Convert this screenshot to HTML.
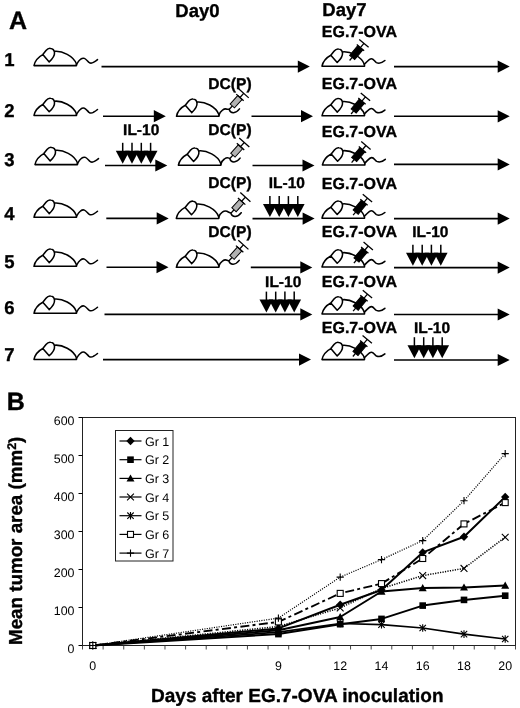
<!DOCTYPE html>
<html lang="en"><head><meta charset="utf-8"><title>Figure</title>
<style>
html,body{margin:0;padding:0;background:#fff;}
body{width:520px;height:708px;overflow:hidden;}
svg{display:block;}
text{font-family:"Liberation Sans", Arial, Helvetica, sans-serif;fill:#000;text-rendering:geometricPrecision;}
.m path{fill:none;stroke:#000;stroke-width:1.55;stroke-linecap:round;stroke-linejoin:round;}
.s path{fill:none;stroke:#000;stroke-width:1.3;stroke-linecap:butt;}
.s rect{stroke:#000;stroke-width:1;}
.l{fill:none;stroke:#000;stroke-width:1.6;}
.l2{fill:none;stroke:#000;stroke-width:1.5;}
.f{fill:#000;stroke:none;}
.pl,.rn,.b18,.b15,.xt,.yt{stroke:#000;stroke-width:0.35px;stroke-linejoin:round;}
.pl{font-size:25px;font-weight:bold;}
.rn{font-size:18.5px;font-weight:bold;}
.b18{font-size:18.5px;font-weight:bold;}
.b15{font-size:16px;font-weight:bold;}
.ax{font-size:12.4px;}
.lg{font-size:12.5px;}
.xt{font-size:19px;font-weight:bold;}
.yt{font-size:18.8px;font-weight:bold;}
</style></head><body>
<svg width="520" height="708" viewBox="0 0 520 708">
<rect x="0" y="0" width="520" height="708" fill="#fff"/>
<text x="9" y="28.6" class="pl">A</text>
<text x="6.8" y="410" class="pl">B</text>
<text x="175.3" y="17" class="b18">Day0</text>
<text x="322.3" y="16.4" class="b18">Day7</text>
<text x="4.2" y="66.0" class="rn">1</text>
<text x="4.2" y="116.5" class="rn">2</text>
<text x="4.2" y="166.1" class="rn">3</text>
<text x="4.2" y="220.0" class="rn">4</text>
<text x="4.2" y="267.5" class="rn">5</text>
<text x="4.2" y="314.0" class="rn">6</text>
<text x="4.2" y="361.4" class="rn">7</text>
<g transform="translate(34,65.6)" class="m"><path d="M0,0 H42.5 M0,0 C0.8,-4 4,-8.4 8.8,-11 L12,-15 C13.6,-17 15.4,-17.4 16.6,-17.2 C18.6,-17 20.2,-15.4 20.5,-13.2 C20.8,-10.4 19.4,-7.6 15.2,-3.7 L8.8,-11 M20.5,-14.3 C28,-15 39.6,-9.8 42.5,-1.5 V0"/><path d="M42.4,-1 C43.5,-3 45,-5.4 46.4,-6.2 C48,-7.4 49.4,-7.6 50.4,-7.2 C52,-6.6 53.6,-4.4 55,-3.2 C56.4,-2.2 58,-2.4 59.4,-3.2 C61,-4 62.4,-5 63.5,-6"/></g>
<g transform="translate(34,115.5)" class="m"><path d="M0,0 H42.5 M0,0 C0.8,-4 4,-8.4 8.8,-11 L12,-15 C13.6,-17 15.4,-17.4 16.6,-17.2 C18.6,-17 20.2,-15.4 20.5,-13.2 C20.8,-10.4 19.4,-7.6 15.2,-3.7 L8.8,-11 M20.5,-14.3 C28,-15 39.6,-9.8 42.5,-1.5 V0"/><path d="M42.4,-1 C43.5,-3 45,-5.4 46.4,-6.2 C48,-7.4 49.4,-7.6 50.4,-7.2 C52,-6.6 53.6,-4.4 55,-3.2 C56.4,-2.2 58,-2.4 59.4,-3.2 C61,-4 62.4,-5 63.5,-6"/></g>
<g transform="translate(35,164.60000000000002)" class="m"><path d="M0,0 H42.5 M0,0 C0.8,-4 4,-8.4 8.8,-11 L12,-15 C13.6,-17 15.4,-17.4 16.6,-17.2 C18.6,-17 20.2,-15.4 20.5,-13.2 C20.8,-10.4 19.4,-7.6 15.2,-3.7 L8.8,-11 M20.5,-14.3 C28,-15 39.6,-9.8 42.5,-1.5 V0"/><path d="M42.4,-1 C43.5,-3 45,-5.4 46.4,-6.2 C48,-7.4 49.4,-7.6 50.4,-7.2 C52,-6.6 53.6,-4.4 55,-3.2 C56.4,-2.2 58,-2.4 59.4,-3.2 C61,-4 62.4,-5 63.5,-6"/></g>
<g transform="translate(34,217.3)" class="m"><path d="M0,0 H42.5 M0,0 C0.8,-4 4,-8.4 8.8,-11 L12,-15 C13.6,-17 15.4,-17.4 16.6,-17.2 C18.6,-17 20.2,-15.4 20.5,-13.2 C20.8,-10.4 19.4,-7.6 15.2,-3.7 L8.8,-11 M20.5,-14.3 C28,-15 39.6,-9.8 42.5,-1.5 V0"/><path d="M42.4,-1 C43.5,-3 45,-5.4 46.4,-6.2 C48,-7.4 49.4,-7.6 50.4,-7.2 C52,-6.6 53.6,-4.4 55,-3.2 C56.4,-2.2 58,-2.4 59.4,-3.2 C61,-4 62.4,-5 63.5,-6"/></g>
<g transform="translate(34,266.3)" class="m"><path d="M0,0 H42.5 M0,0 C0.8,-4 4,-8.4 8.8,-11 L12,-15 C13.6,-17 15.4,-17.4 16.6,-17.2 C18.6,-17 20.2,-15.4 20.5,-13.2 C20.8,-10.4 19.4,-7.6 15.2,-3.7 L8.8,-11 M20.5,-14.3 C28,-15 39.6,-9.8 42.5,-1.5 V0"/><path d="M42.4,-1 C43.5,-3 45,-5.4 46.4,-6.2 C48,-7.4 49.4,-7.6 50.4,-7.2 C52,-6.6 53.6,-4.4 55,-3.2 C56.4,-2.2 58,-2.4 59.4,-3.2 C61,-4 62.4,-5 63.5,-6"/></g>
<g transform="translate(34,313.3)" class="m"><path d="M0,0 H42.5 M0,0 C0.8,-4 4,-8.4 8.8,-11 L12,-15 C13.6,-17 15.4,-17.4 16.6,-17.2 C18.6,-17 20.2,-15.4 20.5,-13.2 C20.8,-10.4 19.4,-7.6 15.2,-3.7 L8.8,-11 M20.5,-14.3 C28,-15 39.6,-9.8 42.5,-1.5 V0"/><path d="M42.4,-1 C43.5,-3 45,-5.4 46.4,-6.2 C48,-7.4 49.4,-7.6 50.4,-7.2 C52,-6.6 53.6,-4.4 55,-3.2 C56.4,-2.2 58,-2.4 59.4,-3.2 C61,-4 62.4,-5 63.5,-6"/></g>
<g transform="translate(34,359.5)" class="m"><path d="M0,0 H42.5 M0,0 C0.8,-4 4,-8.4 8.8,-11 L12,-15 C13.6,-17 15.4,-17.4 16.6,-17.2 C18.6,-17 20.2,-15.4 20.5,-13.2 C20.8,-10.4 19.4,-7.6 15.2,-3.7 L8.8,-11 M20.5,-14.3 C28,-15 39.6,-9.8 42.5,-1.5 V0"/><path d="M42.4,-1 C43.5,-3 45,-5.4 46.4,-6.2 C48,-7.4 49.4,-7.6 50.4,-7.2 C52,-6.6 53.6,-4.4 55,-3.2 C56.4,-2.2 58,-2.4 59.4,-3.2 C61,-4 62.4,-5 63.5,-6"/></g>
<g transform="translate(322,66.2)" class="m"><path d="M0,0 H42.5 M0,0 C0.8,-4 4,-8.4 8.8,-11 L12,-15 C13.6,-17 15.4,-17.4 16.6,-17.2 C18.6,-17 20.2,-15.4 20.5,-13.2 C20.8,-10.4 19.4,-7.6 15.2,-3.7 L8.8,-11 M20.5,-14.3 C28,-15 39.6,-9.8 42.5,-1.5 V0"/><path d="M42.3,-2 C44.5,-3.6 47,-7.4 49.4,-7.4 C51.6,-7.4 52.6,-4.6 54.4,-3.6 C56.6,-2.6 60,-3.2 62.9,-5.7"/></g>
<g transform="translate(349.6,60.5) rotate(-50)" class="s"><path d="M0,0 H4"/><rect x="4" y="-3.3" width="12.5" height="6.6" fill="#000"/><path d="M16.9,-4.8 V4.8 M16.5,0 H22.3 M22.3,-6.1 V6.1"/></g>
<text x="321.8" y="37.2" class="b15">EG.7-OVA</text>
<path d="M394,66.6 H498.7" class="l"/>
<path d="M509.7,66.6 L497.7,60.49999999999999 V72.69999999999999 Z" class="f"/>
<g transform="translate(322,115.8)" class="m"><path d="M0,0 H42.5 M0,0 C0.8,-4 4,-8.4 8.8,-11 L12,-15 C13.6,-17 15.4,-17.4 16.6,-17.2 C18.6,-17 20.2,-15.4 20.5,-13.2 C20.8,-10.4 19.4,-7.6 15.2,-3.7 L8.8,-11 M20.5,-14.3 C28,-15 39.6,-9.8 42.5,-1.5 V0"/><path d="M42.3,-2 C44.5,-3.6 47,-7.4 49.4,-7.4 C51.6,-7.4 52.6,-4.6 54.4,-3.6 C56.6,-2.6 60,-3.2 62.9,-5.7"/></g>
<g transform="translate(351.1,114.0) rotate(-50)" class="s"><path d="M0,0 H4"/><rect x="4" y="-3.3" width="12.5" height="6.6" fill="#000"/><path d="M16.9,-4.8 V4.8 M16.5,0 H22.3 M22.3,-6.1 V6.1"/></g>
<text x="321.8" y="88.7" class="b15">EG.7-OVA</text>
<path d="M394,116.3 H498.7" class="l"/>
<path d="M509.7,116.3 L497.7,110.2 V122.39999999999999 Z" class="f"/>
<g transform="translate(322.4,165.0)" class="m"><path d="M0,0 H42.5 M0,0 C0.8,-4 4,-8.4 8.8,-11 L12,-15 C13.6,-17 15.4,-17.4 16.6,-17.2 C18.6,-17 20.2,-15.4 20.5,-13.2 C20.8,-10.4 19.4,-7.6 15.2,-3.7 L8.8,-11 M20.5,-14.3 C28,-15 39.6,-9.8 42.5,-1.5 V0"/><path d="M42.3,-2 C44.5,-3.6 47,-7.4 49.4,-7.4 C51.6,-7.4 52.6,-4.6 54.4,-3.6 C56.6,-2.6 60,-3.2 62.9,-5.7"/></g>
<g transform="translate(351.6,162.6) rotate(-50)" class="s"><path d="M0,0 H4"/><rect x="4" y="-3.3" width="12.5" height="6.6" fill="#000"/><path d="M16.9,-4.8 V4.8 M16.5,0 H22.3 M22.3,-6.1 V6.1"/></g>
<text x="321.8" y="137.0" class="b15">EG.7-OVA</text>
<path d="M394,164.4 H498.7" class="l"/>
<path d="M509.7,164.4 L497.7,158.3 V170.5 Z" class="f"/>
<g transform="translate(322,218.2)" class="m"><path d="M0,0 H42.5 M0,0 C0.8,-4 4,-8.4 8.8,-11 L12,-15 C13.6,-17 15.4,-17.4 16.6,-17.2 C18.6,-17 20.2,-15.4 20.5,-13.2 C20.8,-10.4 19.4,-7.6 15.2,-3.7 L8.8,-11 M20.5,-14.3 C28,-15 39.6,-9.8 42.5,-1.5 V0"/><path d="M42.3,-2 C44.5,-3.6 47,-7.4 49.4,-7.4 C51.6,-7.4 52.6,-4.6 54.4,-3.6 C56.6,-2.6 60,-3.2 62.9,-5.7"/></g>
<g transform="translate(353.1,215.2) rotate(-50)" class="s"><path d="M0,0 H4"/><rect x="4" y="-3.3" width="12.5" height="6.6" fill="#000"/><path d="M16.9,-4.8 V4.8 M16.5,0 H22.3 M22.3,-6.1 V6.1"/></g>
<text x="321.8" y="189.1" class="b15">EG.7-OVA</text>
<path d="M394,218.6 H498.7" class="l"/>
<path d="M509.7,218.6 L497.7,212.5 V224.7 Z" class="f"/>
<g transform="translate(322,267.0)" class="m"><path d="M0,0 H42.5 M0,0 C0.8,-4 4,-8.4 8.8,-11 L12,-15 C13.6,-17 15.4,-17.4 16.6,-17.2 C18.6,-17 20.2,-15.4 20.5,-13.2 C20.8,-10.4 19.4,-7.6 15.2,-3.7 L8.8,-11 M20.5,-14.3 C28,-15 39.6,-9.8 42.5,-1.5 V0"/><path d="M42.3,-2 C44.5,-3.6 47,-7.4 49.4,-7.4 C51.6,-7.4 52.6,-4.6 54.4,-3.6 C56.6,-2.6 60,-3.2 62.9,-5.7"/></g>
<g transform="translate(353.9,263.1) rotate(-50)" class="s"><path d="M0,0 H4"/><rect x="4" y="-3.3" width="12.5" height="6.6" fill="#000"/><path d="M16.9,-4.8 V4.8 M16.5,0 H22.3 M22.3,-6.1 V6.1"/></g>
<text x="321.8" y="237.0" class="b15">EG.7-OVA</text>
<path d="M394,267.6 H498.7" class="l"/>
<path d="M509.7,267.6 L497.7,261.5 V273.70000000000005 Z" class="f"/>
<g transform="translate(322,314.0)" class="m"><path d="M0,0 H42.5 M0,0 C0.8,-4 4,-8.4 8.8,-11 L12,-15 C13.6,-17 15.4,-17.4 16.6,-17.2 C18.6,-17 20.2,-15.4 20.5,-13.2 C20.8,-10.4 19.4,-7.6 15.2,-3.7 L8.8,-11 M20.5,-14.3 C28,-15 39.6,-9.8 42.5,-1.5 V0"/><path d="M42.3,-2 C44.5,-3.6 47,-7.4 49.4,-7.4 C51.6,-7.4 52.6,-4.6 54.4,-3.6 C56.6,-2.6 60,-3.2 62.9,-5.7"/></g>
<g transform="translate(353.1,311.2) rotate(-50)" class="s"><path d="M0,0 H4"/><rect x="4" y="-3.3" width="12.5" height="6.6" fill="#000"/><path d="M16.9,-4.8 V4.8 M16.5,0 H22.3 M22.3,-6.1 V6.1"/></g>
<text x="321.8" y="286.8" class="b15">EG.7-OVA</text>
<path d="M394,314.5 H498.7" class="l"/>
<path d="M509.7,314.5 L497.7,308.4 V320.6 Z" class="f"/>
<g transform="translate(322,359.6)" class="m"><path d="M0,0 H42.5 M0,0 C0.8,-4 4,-8.4 8.8,-11 L12,-15 C13.6,-17 15.4,-17.4 16.6,-17.2 C18.6,-17 20.2,-15.4 20.5,-13.2 C20.8,-10.4 19.4,-7.6 15.2,-3.7 L8.8,-11 M20.5,-14.3 C28,-15 39.6,-9.8 42.5,-1.5 V0"/><path d="M42.3,-2 C44.5,-3.6 47,-7.4 49.4,-7.4 C51.6,-7.4 52.6,-4.6 54.4,-3.6 C56.6,-2.6 60,-3.2 62.9,-5.7"/></g>
<g transform="translate(352.9,356.5) rotate(-50)" class="s"><path d="M0,0 H4"/><rect x="4" y="-3.3" width="12.5" height="6.6" fill="#000"/><path d="M16.9,-4.8 V4.8 M16.5,0 H22.3 M22.3,-6.1 V6.1"/></g>
<text x="321.8" y="333.3" class="b15">EG.7-OVA</text>
<path d="M394,360.0 H498.7" class="l"/>
<path d="M509.7,360.0 L497.7,353.9 V366.1 Z" class="f"/>
<path d="M101.5,66.6 H298.8" class="l"/>
<path d="M309.8,66.6 L297.8,60.49999999999999 V72.69999999999999 Z" class="f"/>
<path d="M103,116.2 H154.8" class="l"/>
<path d="M165.8,116.2 L153.8,110.10000000000001 V122.3 Z" class="f"/>
<g transform="translate(176.5,116.3)" class="m"><path d="M0,0 H42.5 M0,0 C0.8,-4 4,-8.4 8.8,-11 L12,-15 C13.6,-17 15.4,-17.4 16.6,-17.2 C18.6,-17 20.2,-15.4 20.5,-13.2 C20.8,-10.4 19.4,-7.6 15.2,-3.7 L8.8,-11 M20.5,-14.3 C28,-15 39.6,-9.8 42.5,-1.5 V0"/><path d="M42.4,-1 C43,-3 44.5,-5.2 46,-6.2 C47.6,-7.4 49.4,-7.6 50.6,-7.1 C51.6,-6.7 51.6,-7.3 52.8,-7.0 M52.9,-6.3 C53.3,-4.9 54.7,-3.7 56.7,-3.6 C59.1,-3.5 61.3,-5.1 63.0,-7.4"/></g>
<g transform="translate(229.3,109.3) rotate(-48)" class="s"><path d="M0,0 H4.5"/><rect x="4.5" y="-2.9" width="11.4" height="5.8" fill="#b2b2b2"/><path d="M15.9,-5 V5 M15.9,0 H21.5 M21.5,-6.8 V6.8"/></g>
<path d="M251.5,116.2 H302" class="l"/>
<path d="M313,116.2 L301,110.10000000000001 V122.3 Z" class="f"/>
<text x="208.3" y="88.6" class="b15" style="font-size:15.6px">DC(P)</text>
<path d="M105,165.5 H156.3" class="l"/>
<path d="M167.3,165.5 L155.3,159.4 V171.6 Z" class="f"/>
<g transform="translate(178.4,165.20000000000002)" class="m"><path d="M0,0 H42.5 M0,0 C0.8,-4 4,-8.4 8.8,-11 L12,-15 C13.6,-17 15.4,-17.4 16.6,-17.2 C18.6,-17 20.2,-15.4 20.5,-13.2 C20.8,-10.4 19.4,-7.6 15.2,-3.7 L8.8,-11 M20.5,-14.3 C28,-15 39.6,-9.8 42.5,-1.5 V0"/><path d="M42.4,-1 C43,-3 44.5,-5.2 46,-6.2 C47.6,-7.4 49.4,-7.6 50.6,-7.1 C51.6,-6.7 50.3,-7.0 51.5,-6.7 M51.6,-6.0 C52.0,-4.6 53.4,-3.4 55.4,-3.3 C57.8,-3.2 60.0,-4.8 61.7,-7.1"/></g>
<g transform="translate(229.9,158.5) rotate(-48)" class="s"><path d="M0,0 H4.5"/><rect x="4.5" y="-2.9" width="11.4" height="5.8" fill="#b2b2b2"/><path d="M15.9,-5 V5 M15.9,0 H21.5 M21.5,-6.8 V6.8"/></g>
<path d="M252.5,165.5 H303.5" class="l"/>
<path d="M314.5,165.5 L302.5,159.4 V171.6 Z" class="f"/>
<text x="208.3" y="135.3" class="b15" style="font-size:15.6px">DC(P)</text>
<path d="M122.7,142.8 V152.8" class="l2"/>
<path d="M122.7,163.8 L115.8,150.8 H129.6 Z" class="f"/>
<path d="M132.0,142.8 V152.8" class="l2"/>
<path d="M132.0,163.8 L125.1,150.8 H138.9 Z" class="f"/>
<path d="M141.3,142.8 V152.8" class="l2"/>
<path d="M141.3,163.8 L134.4,150.8 H148.2 Z" class="f"/>
<path d="M150.6,142.8 V152.8" class="l2"/>
<path d="M150.6,163.8 L143.7,150.8 H157.5 Z" class="f"/>
<text x="141.2" y="135.3" class="b15" style="font-size:15.5px" text-anchor="middle">IL-10</text>
<path d="M106.3,218.4 H157.7" class="l"/>
<path d="M168.7,218.4 L156.7,212.3 V224.5 Z" class="f"/>
<g transform="translate(176.3,218.4)" class="m"><path d="M0,0 H42.5 M0,0 C0.8,-4 4,-8.4 8.8,-11 L12,-15 C13.6,-17 15.4,-17.4 16.6,-17.2 C18.6,-17 20.2,-15.4 20.5,-13.2 C20.8,-10.4 19.4,-7.6 15.2,-3.7 L8.8,-11 M20.5,-14.3 C28,-15 39.6,-9.8 42.5,-1.5 V0"/><path d="M42.4,-1 C43,-3 44.5,-5.2 46,-6.2 C47.6,-7.4 49.4,-7.6 50.6,-7.1 C51.6,-6.7 53.5,-5.6 54.7,-5.3 M54.8,-4.6 C55.2,-3.2 56.6,-2.0 58.6,-1.9 C61.0,-1.8 63.2,-3.4 64.9,-5.7"/></g>
<g transform="translate(231.0,213.1) rotate(-48)" class="s"><path d="M0,0 H4.5"/><rect x="4.5" y="-2.9" width="11.4" height="5.8" fill="#b2b2b2"/><path d="M15.9,-5 V5 M15.9,0 H21.5 M21.5,-6.8 V6.8"/></g>
<path d="M252.5,218.6 H303.6" class="l"/>
<path d="M314.6,218.6 L302.6,212.5 V224.7 Z" class="f"/>
<text x="208.3" y="188.1" class="b15" style="font-size:15.6px">DC(P)</text>
<path d="M269.9,196.1 V206.1" class="l2"/>
<path d="M269.9,217.1 L263.0,204.1 H276.8 Z" class="f"/>
<path d="M279.2,196.1 V206.1" class="l2"/>
<path d="M279.2,217.1 L272.3,204.1 H286.1 Z" class="f"/>
<path d="M288.4,196.1 V206.1" class="l2"/>
<path d="M288.4,217.1 L281.6,204.1 H295.3 Z" class="f"/>
<path d="M297.8,196.1 V206.1" class="l2"/>
<path d="M297.8,217.1 L290.9,204.1 H304.6 Z" class="f"/>
<text x="286.8" y="188.3" class="b15" style="font-size:15.5px" text-anchor="middle">IL-10</text>
<path d="M106.5,267.2 H157.5" class="l"/>
<path d="M168.5,267.2 L156.5,261.09999999999997 V273.3 Z" class="f"/>
<g transform="translate(176.4,267.3)" class="m"><path d="M0,0 H42.5 M0,0 C0.8,-4 4,-8.4 8.8,-11 L12,-15 C13.6,-17 15.4,-17.4 16.6,-17.2 C18.6,-17 20.2,-15.4 20.5,-13.2 C20.8,-10.4 19.4,-7.6 15.2,-3.7 L8.8,-11 M20.5,-14.3 C28,-15 39.6,-9.8 42.5,-1.5 V0"/><path d="M42.4,-1 C43,-3 44.5,-5.2 46,-6.2 C47.6,-7.4 49.4,-7.6 50.6,-7.1 C51.6,-6.7 51.4,-6.8 52.6,-6.5 M52.7,-5.8 C53.1,-4.4 54.5,-3.2 56.5,-3.1 C58.9,-3.0 61.1,-4.6 62.8,-6.9"/></g>
<g transform="translate(229.0,260.8) rotate(-48)" class="s"><path d="M0,0 H4.5"/><rect x="4.5" y="-2.9" width="11.4" height="5.8" fill="#b2b2b2"/><path d="M15.9,-5 V5 M15.9,0 H21.5 M21.5,-6.8 V6.8"/></g>
<path d="M250.8,267.4 H301.3" class="l"/>
<path d="M312.3,267.4 L300.3,261.29999999999995 V273.5 Z" class="f"/>
<text x="208.3" y="236.9" class="b15" style="font-size:15.6px">DC(P)</text>
<path d="M412.9,244.7 V254.7" class="l2"/>
<path d="M412.9,265.7 L406.0,252.7 H419.8 Z" class="f"/>
<path d="M422.2,244.7 V254.7" class="l2"/>
<path d="M422.2,265.7 L415.3,252.7 H429.1 Z" class="f"/>
<path d="M431.4,244.7 V254.7" class="l2"/>
<path d="M431.4,265.7 L424.6,252.7 H438.3 Z" class="f"/>
<path d="M440.8,244.7 V254.7" class="l2"/>
<path d="M440.8,265.7 L433.9,252.7 H447.6 Z" class="f"/>
<text x="430.4" y="237.1" class="b15" style="font-size:15.5px" text-anchor="middle">IL-10</text>
<path d="M104.5,314.4 H301.3" class="l"/>
<path d="M312.3,314.4 L300.3,308.29999999999995 V320.5 Z" class="f"/>
<path d="M266.4,291.6 V301.6" class="l2"/>
<path d="M266.4,312.6 L259.5,299.6 H273.2 Z" class="f"/>
<path d="M275.7,291.6 V301.6" class="l2"/>
<path d="M275.7,312.6 L268.8,299.6 H282.6 Z" class="f"/>
<path d="M284.9,291.6 V301.6" class="l2"/>
<path d="M284.9,312.6 L278.1,299.6 H291.8 Z" class="f"/>
<path d="M294.2,291.6 V301.6" class="l2"/>
<path d="M294.2,312.6 L287.4,299.6 H301.1 Z" class="f"/>
<text x="283.2" y="286.6" class="b15" style="font-size:15.5px" text-anchor="middle">IL-10</text>
<path d="M103,359.59999999999997 H300" class="l"/>
<path d="M311,359.59999999999997 L299,353.49999999999994 V365.7 Z" class="f"/>
<path d="M414.4,337.2 V347.2" class="l2"/>
<path d="M414.4,358.2 L407.5,345.2 H421.2 Z" class="f"/>
<path d="M423.7,337.2 V347.2" class="l2"/>
<path d="M423.7,358.2 L416.8,345.2 H430.6 Z" class="f"/>
<path d="M432.9,337.2 V347.2" class="l2"/>
<path d="M432.9,358.2 L426.1,345.2 H439.8 Z" class="f"/>
<path d="M442.2,337.2 V347.2" class="l2"/>
<path d="M442.2,358.2 L435.4,345.2 H449.1 Z" class="f"/>
<text x="432.0" y="333.0" class="b15" style="font-size:15.5px" text-anchor="middle">IL-10</text>
<rect x="82.5" y="417.5" width="433.0" height="228.0" fill="none" stroke="#222" stroke-width="1"/>
<path d="M78.5,645.5 H82.5" stroke="#000" stroke-width="1" fill="none"/>
<text x="74.5" y="652.9" class="ax" text-anchor="end">0</text>
<path d="M78.5,607.5 H82.5" stroke="#000" stroke-width="1" fill="none"/>
<text x="74.5" y="614.9" class="ax" text-anchor="end">100</text>
<path d="M78.5,569.5 H82.5" stroke="#000" stroke-width="1" fill="none"/>
<text x="74.5" y="576.9" class="ax" text-anchor="end">200</text>
<path d="M78.5,531.5 H82.5" stroke="#000" stroke-width="1" fill="none"/>
<text x="74.5" y="538.9" class="ax" text-anchor="end">300</text>
<path d="M78.5,493.5 H82.5" stroke="#000" stroke-width="1" fill="none"/>
<text x="74.5" y="500.9" class="ax" text-anchor="end">400</text>
<path d="M78.5,455.5 H82.5" stroke="#000" stroke-width="1" fill="none"/>
<text x="74.5" y="462.9" class="ax" text-anchor="end">500</text>
<path d="M78.5,417.5 H82.5" stroke="#000" stroke-width="1" fill="none"/>
<text x="74.5" y="424.9" class="ax" text-anchor="end">600</text>
<path d="M82.50,645.5 V649.5" stroke="#333" stroke-width="0.9" fill="none"/>
<path d="M103.12,645.5 V649.5" stroke="#333" stroke-width="0.9" fill="none"/>
<path d="M123.74,645.5 V649.5" stroke="#333" stroke-width="0.9" fill="none"/>
<path d="M144.36,645.5 V649.5" stroke="#333" stroke-width="0.9" fill="none"/>
<path d="M164.98,645.5 V649.5" stroke="#333" stroke-width="0.9" fill="none"/>
<path d="M185.60,645.5 V649.5" stroke="#333" stroke-width="0.9" fill="none"/>
<path d="M206.21,645.5 V649.5" stroke="#333" stroke-width="0.9" fill="none"/>
<path d="M226.83,645.5 V649.5" stroke="#333" stroke-width="0.9" fill="none"/>
<path d="M247.45,645.5 V649.5" stroke="#333" stroke-width="0.9" fill="none"/>
<path d="M268.07,645.5 V649.5" stroke="#333" stroke-width="0.9" fill="none"/>
<path d="M288.69,645.5 V649.5" stroke="#333" stroke-width="0.9" fill="none"/>
<path d="M309.31,645.5 V649.5" stroke="#333" stroke-width="0.9" fill="none"/>
<path d="M329.93,645.5 V649.5" stroke="#333" stroke-width="0.9" fill="none"/>
<path d="M350.55,645.5 V649.5" stroke="#333" stroke-width="0.9" fill="none"/>
<path d="M371.17,645.5 V649.5" stroke="#333" stroke-width="0.9" fill="none"/>
<path d="M391.79,645.5 V649.5" stroke="#333" stroke-width="0.9" fill="none"/>
<path d="M412.40,645.5 V649.5" stroke="#333" stroke-width="0.9" fill="none"/>
<path d="M433.02,645.5 V649.5" stroke="#333" stroke-width="0.9" fill="none"/>
<path d="M453.64,645.5 V649.5" stroke="#333" stroke-width="0.9" fill="none"/>
<path d="M474.26,645.5 V649.5" stroke="#333" stroke-width="0.9" fill="none"/>
<path d="M494.88,645.5 V649.5" stroke="#333" stroke-width="0.9" fill="none"/>
<path d="M515.50,645.5 V649.5" stroke="#333" stroke-width="0.9" fill="none"/>
<text x="92.8" y="670" class="ax" text-anchor="middle">0</text>
<text x="278.4" y="670" class="ax" text-anchor="middle">9</text>
<text x="340.2" y="670" class="ax" text-anchor="middle">12</text>
<text x="381.5" y="670" class="ax" text-anchor="middle">14</text>
<text x="422.7" y="670" class="ax" text-anchor="middle">16</text>
<text x="464.0" y="670" class="ax" text-anchor="middle">18</text>
<text x="505.2" y="670" class="ax" text-anchor="middle">20</text>
<text x="297.3" y="702.3" class="xt" text-anchor="middle">Days after EG.7-OVA inoculation</text>
<text transform="translate(22.3,645) rotate(-90)" class="yt">Mean tumor area (mm<tspan dy="-6" font-size="12.5">2</tspan><tspan dy="6">)</tspan></text>
<polyline points="92.8,645.5 278.4,628.4 340.2,604.8 381.5,590.0 422.7,552.4 464.0,536.8 505.2,496.9" fill="none" stroke="#000" stroke-linejoin="round" stroke-width="2"/>
<path d="M92.8,641.3 L97.0,645.5 L92.8,649.7 L88.6,645.5 Z" fill="#000"/>
<path d="M278.4,624.1999999999999 L282.59999999999997,628.4 L278.4,632.6 L274.2,628.4 Z" fill="#000"/>
<path d="M340.2,600.5999999999999 L344.4,604.8 L340.2,609.0 L336.0,604.8 Z" fill="#000"/>
<path d="M381.5,585.8 L385.7,590.0 L381.5,594.2 L377.3,590.0 Z" fill="#000"/>
<path d="M422.7,548.1999999999999 L426.9,552.4 L422.7,556.6 L418.5,552.4 Z" fill="#000"/>
<path d="M464.0,532.5999999999999 L468.2,536.8 L464.0,541.0 L459.8,536.8 Z" fill="#000"/>
<path d="M505.2,492.7 L509.4,496.9 L505.2,501.09999999999997 L501.0,496.9 Z" fill="#000"/>
<polyline points="92.8,645.5 278.4,634.1 340.2,624.2 381.5,618.9 422.7,605.6 464.0,599.9 505.2,595.7" fill="none" stroke="#000" stroke-linejoin="round" stroke-width="2"/>
<rect x="89.5" y="642.2" width="6.6" height="6.6" fill="#000"/>
<rect x="275.09999999999997" y="630.8000000000001" width="6.6" height="6.6" fill="#000"/>
<rect x="336.9" y="620.9000000000001" width="6.6" height="6.6" fill="#000"/>
<rect x="378.2" y="615.6" width="6.6" height="6.6" fill="#000"/>
<rect x="419.4" y="602.3000000000001" width="6.6" height="6.6" fill="#000"/>
<rect x="460.7" y="596.6" width="6.6" height="6.6" fill="#000"/>
<rect x="501.9" y="592.4000000000001" width="6.6" height="6.6" fill="#000"/>
<polyline points="92.8,645.5 278.4,630.3 340.2,617.0 381.5,591.5 422.7,588.1 464.0,587.4 505.2,585.5" fill="none" stroke="#000" stroke-linejoin="round" stroke-width="2"/>
<path d="M92.8,641.5 L96.8,648.7 H88.8 Z" fill="#000"/>
<path d="M278.4,626.3 L282.4,633.5 H274.4 Z" fill="#000"/>
<path d="M340.2,613.0 L344.2,620.2 H336.2 Z" fill="#000"/>
<path d="M381.5,587.5 L385.5,594.7 H377.5 Z" fill="#000"/>
<path d="M422.7,584.1 L426.7,591.3000000000001 H418.7 Z" fill="#000"/>
<path d="M464.0,583.4 L468.0,590.6 H460.0 Z" fill="#000"/>
<path d="M505.2,581.5 L509.2,588.7 H501.2 Z" fill="#000"/>
<polyline points="92.8,645.5 278.4,626.5 340.2,607.9 381.5,588.5 422.7,575.6 464.0,568.4 505.2,537.2" fill="none" stroke="#000" stroke-linejoin="round" stroke-width="1.5" stroke-dasharray="1.2 1.3"/>
<path d="M89.39999999999999,642.1 L96.2,648.9 M89.39999999999999,648.9 L96.2,642.1" stroke="#000" stroke-width="1.1" fill="none"/>
<path d="M275.0,623.1 L281.79999999999995,629.9 M275.0,629.9 L281.79999999999995,623.1" stroke="#000" stroke-width="1.1" fill="none"/>
<path d="M336.8,604.5 L343.59999999999997,611.3 M336.8,611.3 L343.59999999999997,604.5" stroke="#000" stroke-width="1.1" fill="none"/>
<path d="M378.1,585.1 L384.9,591.9 M378.1,591.9 L384.9,585.1" stroke="#000" stroke-width="1.1" fill="none"/>
<path d="M419.3,572.2 L426.09999999999997,579.0 M419.3,579.0 L426.09999999999997,572.2" stroke="#000" stroke-width="1.1" fill="none"/>
<path d="M460.6,565.0 L467.4,571.8 M460.6,571.8 L467.4,565.0" stroke="#000" stroke-width="1.1" fill="none"/>
<path d="M501.8,533.8000000000001 L508.59999999999997,540.6 M501.8,540.6 L508.59999999999997,533.8000000000001" stroke="#000" stroke-width="1.1" fill="none"/>
<polyline points="92.8,645.5 278.4,632.2 340.2,623.5 381.5,624.6 422.7,628.0 464.0,634.1 505.2,639.0" fill="none" stroke="#000" stroke-linejoin="round" stroke-width="1.7"/>
<path d="M89.6,642.3 L96.0,648.7 M89.6,648.7 L96.0,642.3 M92.8,641.7 V649.3" stroke="#000" stroke-width="1.1" fill="none"/>
<path d="M275.2,629.0 L281.59999999999997,635.4000000000001 M275.2,635.4000000000001 L281.59999999999997,629.0 M278.4,628.4000000000001 V636.0" stroke="#000" stroke-width="1.1" fill="none"/>
<path d="M337.0,620.3 L343.4,626.7 M337.0,626.7 L343.4,620.3 M340.2,619.7 V627.3" stroke="#000" stroke-width="1.1" fill="none"/>
<path d="M378.3,621.4 L384.7,627.8000000000001 M378.3,627.8000000000001 L384.7,621.4 M381.5,620.8000000000001 V628.4" stroke="#000" stroke-width="1.1" fill="none"/>
<path d="M419.5,624.8 L425.9,631.2 M419.5,631.2 L425.9,624.8 M422.7,624.2 V631.8" stroke="#000" stroke-width="1.1" fill="none"/>
<path d="M460.8,630.9 L467.2,637.3000000000001 M460.8,637.3000000000001 L467.2,630.9 M464.0,630.3000000000001 V637.9" stroke="#000" stroke-width="1.1" fill="none"/>
<path d="M502.0,635.8 L508.4,642.2 M502.0,642.2 L508.4,635.8 M505.2,635.2 V642.8" stroke="#000" stroke-width="1.1" fill="none"/>
<polyline points="92.8,645.5 278.4,621.9 340.2,593.4 381.5,583.6 422.7,558.5 464.0,523.9 505.2,502.6" fill="none" stroke="#000" stroke-linejoin="round" stroke-width="1.9" stroke-dasharray="9 3.2 3 3.4"/>
<rect x="89.8" y="642.5" width="6" height="6" fill="#fff" stroke="#000" stroke-width="1.1"/>
<rect x="275.4" y="618.9" width="6" height="6" fill="#fff" stroke="#000" stroke-width="1.1"/>
<rect x="337.2" y="590.4" width="6" height="6" fill="#fff" stroke="#000" stroke-width="1.1"/>
<rect x="378.5" y="580.6" width="6" height="6" fill="#fff" stroke="#000" stroke-width="1.1"/>
<rect x="419.7" y="555.5" width="6" height="6" fill="#fff" stroke="#000" stroke-width="1.1"/>
<rect x="461.0" y="520.9" width="6" height="6" fill="#fff" stroke="#000" stroke-width="1.1"/>
<rect x="502.2" y="499.6" width="6" height="6" fill="#fff" stroke="#000" stroke-width="1.1"/>
<polyline points="92.8,645.5 278.4,618.1 340.2,577.1 381.5,559.6 422.7,540.6 464.0,500.7 505.2,453.6" fill="none" stroke="#000" stroke-linejoin="round" stroke-width="1.2" stroke-dasharray="1.1 1.3"/>
<path d="M89.2,645.5 H96.39999999999999 M92.8,641.9 V649.1" stroke="#000" stroke-width="1.1" fill="none"/>
<path d="M274.79999999999995,618.1 H282.0 M278.4,614.5 V621.7" stroke="#000" stroke-width="1.1" fill="none"/>
<path d="M336.59999999999997,577.1 H343.8 M340.2,573.5 V580.7" stroke="#000" stroke-width="1.1" fill="none"/>
<path d="M377.9,559.6 H385.1 M381.5,556.0 V563.2" stroke="#000" stroke-width="1.1" fill="none"/>
<path d="M419.09999999999997,540.6 H426.3 M422.7,537.0 V544.2" stroke="#000" stroke-width="1.1" fill="none"/>
<path d="M460.4,500.7 H467.6 M464.0,497.09999999999997 V504.3" stroke="#000" stroke-width="1.1" fill="none"/>
<path d="M501.59999999999997,453.6 H508.8 M505.2,450.0 V457.20000000000005" stroke="#000" stroke-width="1.1" fill="none"/>
<rect x="115.5" y="430.5" width="57.5" height="130.5" fill="#fff" stroke="#222" stroke-width="1"/>
<path d="M119.5,441.0 H141.5" stroke="#000" stroke-width="1.2" fill="none"/>
<path d="M130.5,436.8 L134.7,441.0 L130.5,445.2 L126.3,441.0 Z" fill="#000"/>
<text x="145" y="445.5" class="lg">Gr 1</text>
<path d="M119.5,459.7 H141.5" stroke="#000" stroke-width="1.2" fill="none"/>
<rect x="127.2" y="456.4" width="6.6" height="6.6" fill="#000"/>
<text x="145" y="464.2" class="lg">Gr 2</text>
<path d="M119.5,478.4 H141.5" stroke="#000" stroke-width="1.2" fill="none"/>
<path d="M130.5,474.4 L134.5,481.59999999999997 H126.5 Z" fill="#000"/>
<text x="145" y="482.9" class="lg">Gr 3</text>
<path d="M119.5,497.0 H141.5" stroke="#000" stroke-width="1.2" fill="none"/>
<path d="M127.1,493.6 L133.9,500.4 M127.1,500.4 L133.9,493.6" stroke="#000" stroke-width="1.1" fill="none"/>
<text x="145" y="501.5" class="lg">Gr 4</text>
<path d="M119.5,515.7 H141.5" stroke="#000" stroke-width="1.2" fill="none"/>
<path d="M127.3,512.5 L133.7,518.9000000000001 M127.3,518.9000000000001 L133.7,512.5 M130.5,511.90000000000003 V519.5" stroke="#000" stroke-width="1.1" fill="none"/>
<text x="145" y="520.2" class="lg">Gr 5</text>
<path d="M119.5,534.4 H141.5" stroke="#000" stroke-width="1.2" fill="none"/>
<rect x="127.5" y="531.4" width="6" height="6" fill="#fff" stroke="#000" stroke-width="1.1"/>
<text x="145" y="538.9" class="lg">Gr 6</text>
<path d="M119.5,553.1 H141.5" stroke="#000" stroke-width="1.2" fill="none"/>
<path d="M126.9,553.1 H134.1 M130.5,549.5 V556.7" stroke="#000" stroke-width="1.1" fill="none"/>
<text x="145" y="557.6" class="lg">Gr 7</text>
</svg>
</body></html>
